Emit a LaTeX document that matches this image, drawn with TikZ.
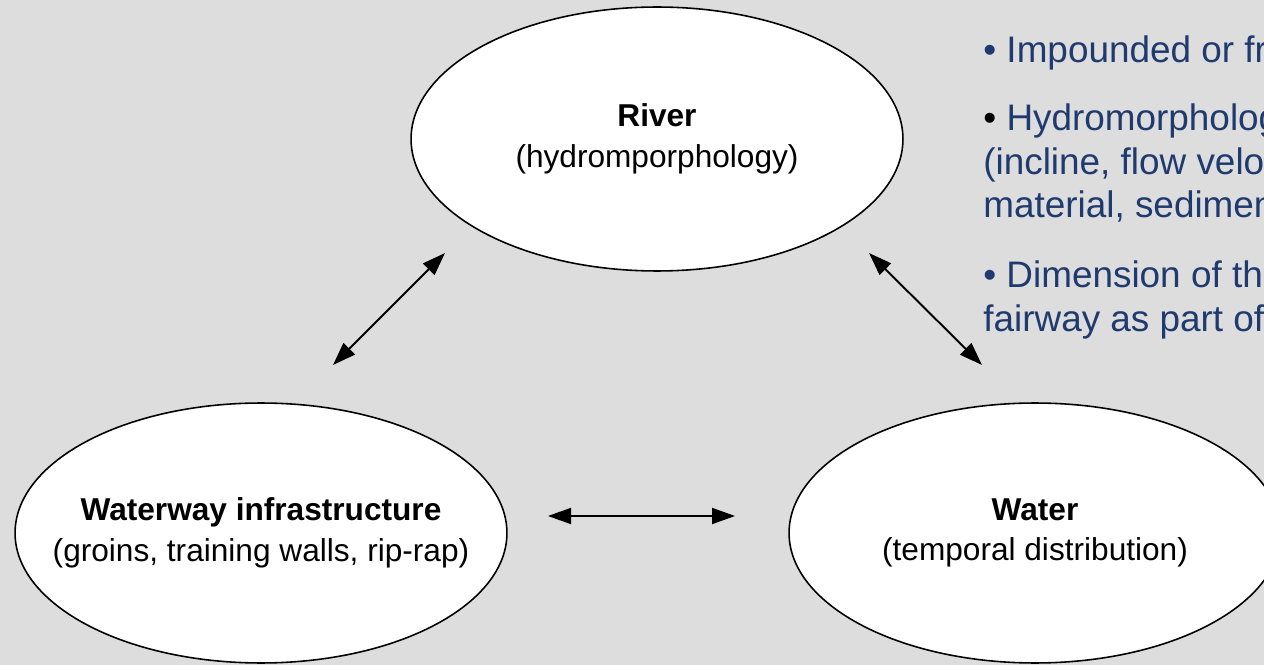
\documentclass[tikz,border=0pt]{standalone}
\usepackage{fontspec}
\setmainfont{Liberation Sans}
\usepackage{xcolor}
\usetikzlibrary{shapes.geometric, arrows.meta}
\definecolor{bggray}{HTML}{DDDDDD}
\definecolor{noteblue}{HTML}{1F3A6E}
\tikzset{
    topic/.style={ellipse, draw, line width=0.9pt, fill=white, minimum width=9.84cm,
        minimum height=5.2cm, inner xsep=-40pt, inner ysep=0pt, align=center,
        font=\fontsize{18}{23}\selectfont},
    link/.style={line width=1.1pt, {Triangle[length=0.46cm, width=0.32cm]}-{Triangle[length=0.46cm, width=0.32cm]}},
    note/.style={anchor=north west, align=left, inner sep=0pt, text=noteblue,
        font=\fontsize{21}{25}\selectfont}
}

\begin{document}
\begin{tikzpicture}[x=0.02cm, y=-0.02cm]
        % Background
        \fill [bggray] (0, 0) rectangle (1264, 665);
        \clip (0, 0) rectangle (1264, 665);
        % Topics
        \node [topic, minimum height=5.28cm] (river) at (657, 139) {\textbf{River}\\(hydromporphology)};
        \node [topic] (infra) at (261, 533) {\textbf{Waterway infrastructure}\\(groins, training walls, rip-rap)};
        \node [topic] (water) at (1035, 533) {\textbf{Water}\\(temporal distribution)};
        % Notes
        \node [note] (free) at (983, 35) {• Impounded or free-flowing river};
        \node [note] (morph) at (983, 103) {{\color{black}•} Hydromorphology\\(incline, flow velocity, bed\\material, sediment budget)};
        \node [note] (fairway) at (983, 260) {• Dimension of the navigable\\fairway as part of the river};
        % Arrow ends
        \coordinate (infraNE) at (333, 365);
        \coordinate (riverSW) at (445, 253);
        \coordinate (riverSE) at (869, 253);
        \coordinate (waterNW) at (982, 365);
        \coordinate (infraE) at (548, 516);
        \coordinate (waterW) at (735, 516);
        % Links
        \draw [link] (infraNE) -- (riverSW);
        \draw [link] (riverSE) -- (waterNW);
        \draw [link] (infraE) -- (waterW);
    \end{tikzpicture}
\end{document}
